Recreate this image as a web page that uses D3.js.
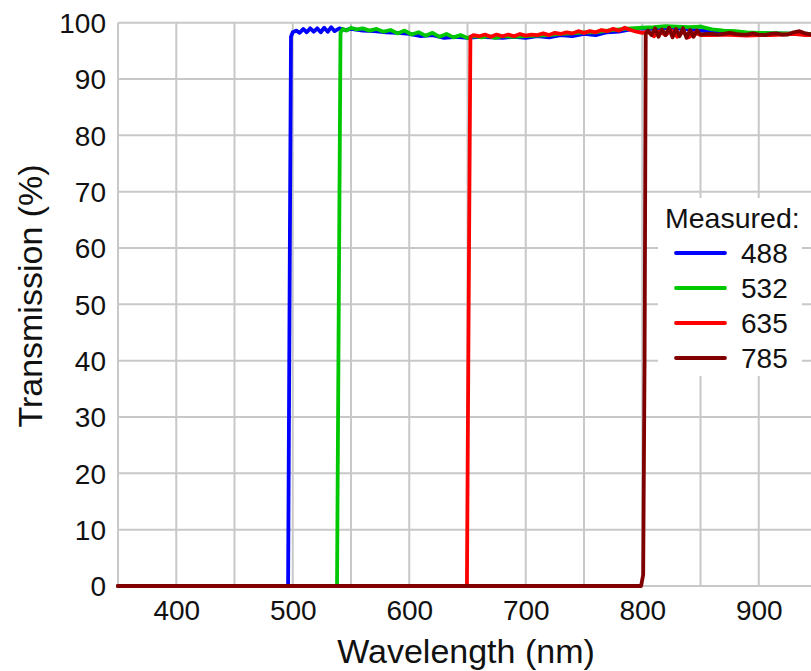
<!DOCTYPE html>
<html>
<head>
<meta charset="utf-8">
<script src="https://cdn.jsdelivr.net/npm/d3@7"></script>
<style>
  html, body { margin: 0; padding: 0; background: #fff; }
  svg { display: block; font-family: "Liberation Sans", Arial, sans-serif; }
</style>
</head>
<body>
<svg id="chart" width="811" height="671"></svg>
<script>
// ---- data ----
const seriesNames = ["488", "532", "635", "785"];
const seriesColors = ["#0000ff", "#00c800", "#ff0000", "#800000"];

const nm488 = [350, 496, 497.5, 498.5, 500, 503, 506, 509, 512, 515, 518, 521, 524, 527, 530, 533, 536, 540, 545, 550, 560, 570, 580, 590, 600, 610, 620, 630, 640, 650, 660, 670, 680, 690, 700, 710, 720, 730, 740, 750, 760, 770, 780, 790, 800, 810, 820, 830, 840, 850, 870, 900, 950];
const t488  = [0, 0, 60, 97.5, 98.3, 98.6, 98.2, 98.9, 98.3, 99.0, 98.4, 99.0, 98.3, 99.1, 98.4, 99.2, 98.5, 99.0, 98.7, 98.9, 98.6, 98.5, 98.3, 98.2, 98.0, 97.6, 97.8, 97.3, 97.5, 97.3, 97.5, 97.4, 97.3, 97.5, 97.3, 97.6, 97.4, 97.8, 97.6, 98.0, 97.8, 98.3, 98.4, 98.8, 99.0, 98.9, 99.1, 99.0, 98.8, 98.6, 98.3, 98.1, 98.0];

const nm532 = [350, 538, 539.5, 541, 543, 546, 550, 555, 560, 566, 572, 578, 584, 590, 596, 602, 608, 614, 620, 626, 632, 638, 644, 650, 656, 662, 668, 674, 680, 690, 700, 710, 720, 730, 740, 750, 760, 770, 780, 790, 800, 810, 820, 830, 840, 850, 860, 870, 880, 890, 900, 950];
const t532  = [0, 0, 50, 98.2, 98.9, 98.6, 99.1, 98.8, 99.0, 98.6, 98.9, 98.4, 98.7, 98.1, 98.6, 97.9, 98.3, 97.7, 98.2, 97.5, 98.0, 97.4, 97.8, 97.3, 97.6, 97.4, 97.6, 97.3, 97.6, 97.5, 97.6, 97.7, 97.8, 98.0, 98.1, 98.3, 98.3, 98.6, 98.8, 99.0, 99.1, 99.2, 99.4, 99.3, 99.2, 99.3, 98.8, 98.6, 98.5, 98.3, 98.2, 98.0];

const nm635 = [350, 649.5, 651, 652.5, 655, 660, 665, 670, 675, 680, 685, 690, 695, 700, 705, 710, 715, 720, 725, 730, 735, 740, 745, 750, 755, 760, 765, 770, 775, 780, 785, 790, 795, 800, 805, 810, 815, 820, 825, 830, 835, 840, 845, 850, 860, 870, 880, 890, 900, 910, 920, 930, 940, 950];
const t635  = [0, 0, 50, 97.5, 97.8, 97.6, 97.9, 97.5, 97.9, 97.6, 97.9, 97.6, 98.0, 97.7, 97.9, 97.8, 98.1, 97.8, 98.2, 98.0, 98.3, 98.1, 98.5, 98.2, 98.5, 98.3, 98.7, 98.5, 98.9, 98.6, 99.1, 98.7, 98.4, 98.2, 98.4, 97.6, 98.5, 97.8, 98.6, 97.5, 98.4, 97.4, 98.2, 97.8, 97.8, 97.9, 97.8, 97.7, 97.8, 97.8, 97.9, 98.0, 97.8, 97.8];

const nm785 = [350, 799, 800.8, 802, 803, 805, 808, 811, 814, 817, 820, 823, 826, 829, 832, 835, 838, 841, 844, 847, 850, 855, 860, 865, 870, 875, 880, 885, 890, 895, 900, 905, 910, 915, 920, 925, 930, 935, 940, 945, 950];
const t785  = [0, 0, 2, 40, 98, 98.6, 97.8, 99.0, 97.5, 98.8, 97.8, 99.1, 97.4, 98.9, 97.6, 99.0, 97.3, 98.7, 97.5, 98.6, 97.9, 98.0, 98.0, 97.9, 98.0, 98.2, 98.0, 97.9, 97.9, 98.1, 97.9, 97.8, 98.0, 98.1, 97.9, 97.9, 98.3, 98.5, 98.1, 97.9, 98.0];

const xTickValues = [400, 500, 600, 700, 800, 900];
const yTickValues = [0, 10, 20, 30, 40, 50, 60, 70, 80, 90, 100];
const xGridValues = [350, 400, 450, 500, 550, 600, 650, 700, 750, 800, 850, 900, 950];
const xTitle = "Wavelength (nm)";
const yTitle = "Transmission (%)";
const legendTitle = "Measured:";

// ---- chart ----
const svg = d3.select("#chart");
const x = d3.scaleLinear().domain([350, 950]).range([118, 817]);
const y = d3.scaleLinear().domain([0, 100]).range([586, 22.7]);

const grid = svg.append("g").attr("stroke", "#c8c8c8").attr("stroke-width", 2);
grid.selectAll("line.v").data(xGridValues).join("line")
  .attr("x1", d => x(d)).attr("x2", d => x(d))
  .attr("y1", y(0)).attr("y2", y(100));
grid.selectAll("line.h").data(yTickValues).join("line")
  .attr("x1", x(350)).attr("x2", x(950))
  .attr("y1", d => y(d)).attr("y2", d => y(d));

// axes (labels only)
const xAxis = svg.append("g").attr("transform", `translate(0,${y(0)})`)
  .call(d3.axisBottom(x).tickValues(xTickValues).tickSize(0).tickPadding(0).tickFormat(d3.format("d")));
xAxis.select(".domain").remove();
xAxis.selectAll("text").attr("y", 34).attr("dy", null)
  .attr("font-size", 28).attr("fill", "#111").attr("font-family", "Liberation Sans, Arial, sans-serif");

const yAxis = svg.append("g").attr("transform", `translate(106,0)`)
  .call(d3.axisLeft(y).tickValues(yTickValues).tickSize(0).tickPadding(0).tickFormat(d3.format("d")));
yAxis.select(".domain").remove();
yAxis.selectAll("text").attr("x", 0).attr("dy", "0.35em")
  .attr("font-size", 28).attr("fill", "#111").attr("font-family", "Liberation Sans, Arial, sans-serif");

// series
const series = [
  { xs: nm488, ys: t488 },
  { xs: nm532, ys: t532 },
  { xs: nm635, ys: t635 },
  { xs: nm785, ys: t785 }
];
const line = d3.line().x(d => x(d[0])).y(d => y(d[1]));
series.forEach((s, i) => {
  const pts = s.xs.map((v, j) => [v, s.ys[j]]);
  svg.append("path").datum(pts)
    .attr("d", line)
    .attr("fill", "none")
    .attr("stroke", seriesColors[i])
    .attr("stroke-width", 3.8)
    .attr("stroke-linejoin", "round")
    .attr("stroke-linecap", "round");
});

// titles
svg.append("text").attr("x", 466).attr("y", 663).attr("text-anchor", "middle")
  .attr("font-size", 34).attr("fill", "#111").text(xTitle);
svg.append("text").attr("transform", "translate(42,296) rotate(-90)").attr("text-anchor", "middle")
  .attr("font-size", 34).attr("fill", "#111").text(yTitle);

// legend
const lg = svg.append("g");
lg.append("rect").attr("x", 658).attr("y", 198).attr("width", 144).attr("height", 178).attr("fill", "#fff");
lg.append("text").attr("x", 665).attr("y", 228).attr("font-size", 28.5).attr("fill", "#111").text(legendTitle);
seriesNames.forEach((n, i) => {
  const ly = 253 + i * 35;
  lg.append("line").attr("x1", 676).attr("x2", 725).attr("y1", ly).attr("y2", ly)
    .attr("stroke", seriesColors[i]).attr("stroke-width", 3.8).attr("stroke-linecap", "round");
  lg.append("text").attr("x", 741).attr("y", ly + 10).attr("font-size", 28).attr("fill", "#111").text(n);
});
</script>
</body>
</html>
